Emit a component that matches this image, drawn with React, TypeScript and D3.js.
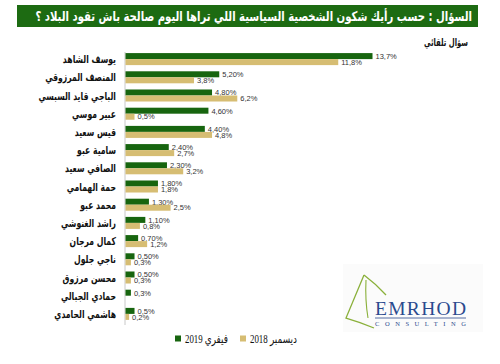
import { useEffect, useRef } from 'react';
import * as d3 from 'd3';

const names = [
  'يوسف الشاهد',
  'المنصف المرزوقي',
  'الباجي قايد السبسي',
  'عبير موسي',
  'قيس سعيد',
  'سامية عبو',
  'الصافي سعيد',
  'حمة الهمامي',
  'محمد عبو',
  'راشد الغنوشي',
  'كمال مرجان',
  'ناجي جلول',
  'محسن مرزوق',
  'حمادي الجبالي',
  'هاشمي الحامدي',
];

// فيفري 2019
const feb2019 = [13.7, 5.2, 4.8, 4.6, 4.4, 2.4, 2.3, 1.8, 1.3, 1.1, 0.7, 0.5, 0.5, 0.3, 0.5];
const feb2019Labels = ['13,7%', '5,20%', '4,80%', '4,60%', '4,40%', '2,40%', '2,30%', '1,80%', '1,30%', '1,10%', '0,70%', '0,50%', '0,50%', '0,3%', '0,5%'];

// ديسمبر 2018 (no bar for حمادي الجبالي)
const dec2018 = [11.8, 3.8, 6.2, 0.5, 4.8, 2.7, 3.2, 1.8, 2.5, 0.8, 1.2, 0.3, 0.3, null, 0.2];
const dec2018Labels = ['11,8%', '3,8%', '6,2%', '0,5%', '4,8%', '2,7%', '3,2%', '1,8%', '2,5%', '0,8%', '1,2%', '0,3%', '0,3%', '', '0,2%'];

const seriesKeys = ['feb', 'dec'];
const legendLabels = ['2019 فيفري', '2018 ديسمبر'];

const title = 'السؤال :  حسب رأيك شكون الشخصية  السياسية اللي تراها اليوم صالحة باش تقود البلاد ؟';
const subtitle = 'سؤال تلقائي';

const GREEN = '#17650f';
const GOLD = '#d6bd73';

// squeeze a text horizontally around its anchor x so it takes at most w pixels
const squeeze = (node, ax, w) => {
  const len = node.getComputedTextLength();
  const s = Math.min(1, w / len);
  d3.select(node).attr('transform', `translate(${ax},0) scale(${s},1) translate(${-ax},0)`);
};

const App = () => {
  const svgRef = useRef(null);

  useEffect(() => {
    const svg = d3.select(svgRef.current);
    svg.selectAll('*').remove();

    const x = d3.scaleLinear().domain([0, 13.7]).range([125, 372]);
    const y = d3.scaleBand().domain(names).range([50, 323]).paddingInner(0.34).paddingOuter(0.17);
    const sub = d3.scaleBand().domain(seriesKeys).range([0, y.bandwidth()]);
    const color = d3.scaleOrdinal().domain(seriesKeys).range([GREEN, GOLD]);

    // title banner
    svg.append('rect').attr('x', 17).attr('y', 5).attr('width', 461).attr('height', 22).attr('fill', '#1d6b12');
    const t = svg
      .append('text')
      .attr('x', 472)
      .attr('y', 21.5)
      .attr('direction', 'rtl')
      .attr('text-anchor', 'start')
      .attr('fill', '#fff')
      .attr('font-family', 'DejaVu Sans, sans-serif')
      .attr('font-weight', 'bold')
      .attr('font-size', 13.5)
      .text(title);
    squeeze(t.node(), 472, 437);

    const st = svg
      .append('text')
      .attr('x', 468)
      .attr('y', 46)
      .attr('direction', 'rtl')
      .attr('text-anchor', 'start')
      .attr('fill', '#111')
      .attr('font-family', 'DejaVu Sans, sans-serif')
      .attr('font-weight', 'bold')
      .attr('font-size', 10.5)
      .text(subtitle);
    squeeze(st.node(), 468, 44);

    // axis line
    svg.append('line').attr('x1', 125).attr('x2', 125).attr('y1', 52).attr('y2', 325).attr('stroke', '#c8c8c8');

    const rows = names.map((n, i) => ({
      name: n,
      values: [
        { key: 'feb', v: feb2019[i], label: feb2019Labels[i] },
        { key: 'dec', v: dec2018[i], label: dec2018Labels[i] },
      ],
    }));

    const g = svg
      .selectAll('g.row')
      .data(rows)
      .enter()
      .append('g')
      .attr('class', 'row')
      .attr('transform', (d) => `translate(0,${y(d.name)})`);

    g.append('text')
      .attr('x', 116)
      .attr('y', y.bandwidth() / 2 + 4)
      .attr('direction', 'rtl')
      .attr('text-anchor', 'start')
      .attr('fill', '#111')
      .attr('font-family', 'DejaVu Sans, sans-serif')
      .attr('font-weight', 'bold')
      .attr('font-size', 11)
      .text((d) => d.name)
      .each(function () {
        const len = this.getComputedTextLength();
        d3.select(this).attr('transform', `translate(116,0) scale(${Math.min(1, 0.7)},1) translate(-116,0)`);
        return len;
      });

    const bars = g
      .selectAll('g.bar')
      .data((d) => d.values.filter((v) => v.v != null))
      .enter()
      .append('g')
      .attr('class', 'bar');

    bars
      .append('rect')
      .attr('x', x(0) + 0.5)
      .attr('y', (d) => sub(d.key))
      .attr('width', (d) => x(d.v) - x(0))
      .attr('height', sub.bandwidth())
      .attr('fill', (d) => color(d.key));

    bars
      .append('text')
      .attr('x', (d) => x(d.v) + 3.5)
      .attr('y', (d) => sub(d.key) + sub.bandwidth() / 2 + 2.8)
      .attr('fill', '#333')
      .attr('font-family', 'Liberation Sans, Arial, sans-serif')
      .attr('font-size', 7.5)
      .text((d) => d.label);

    // legend
    const legendX = [175, 240];
    const legendW = [43, 47];
    const lg = svg
      .selectAll('g.legend')
      .data(seriesKeys)
      .enter()
      .append('g')
      .attr('class', 'legend')
      .attr('transform', (d, i) => `translate(${legendX[i]},339)`);
    lg.append('rect').attr('x', 0).attr('y', -3.5).attr('width', 6).attr('height', 6).attr('fill', (d) => color(d));
    lg.append('text')
      .attr('x', 10)
      .attr('y', 4)
      .attr('font-family', 'Liberation Serif, DejaVu Sans, serif')
      .attr('font-size', 12)
      .attr('fill', '#111')
      .text((d, i) => legendLabels[i])
      .each(function (d, i) {
        squeeze(this, 10, legendW[i]);
      });

    // logo
    const logo = svg.append('g');
    logo.append('rect').attr('x', 343).attr('y', 264).attr('width', 140).attr('height', 68).attr('fill', '#fbfbfb');
    const leaf = '#8ab03a';
    logo.append('path').attr('d', 'M364,275 L346,318 Q360,322 374,328').attr('fill', 'none').attr('stroke', leaf).attr('stroke-width', 1.3);
    logo.append('path').attr('d', 'M364,275 Q376,284 386,295').attr('fill', 'none').attr('stroke', leaf).attr('stroke-width', 1.3);
    logo.append('path').attr('d', 'M366,280 Q365,300 368,318').attr('fill', 'none').attr('stroke', leaf).attr('stroke-width', 1.1);
    logo
      .append('text')
      .attr('x', 375)
      .attr('y', 315)
      .attr('font-family', 'Liberation Serif, serif')
      .attr('font-size', 19.5)
      .attr('fill', '#2b4a8e')
      .attr('textLength', 91)
      .text('EMRHOD');
    logo.append('line').attr('x1', 375).attr('x2', 466).attr('y1', 318).attr('y2', 318).attr('stroke', '#2b4a8e').attr('stroke-width', 0.8);
    logo
      .append('text')
      .attr('x', 375)
      .attr('y', 325.5)
      .attr('font-family', 'Liberation Serif, serif')
      .attr('font-size', 6.5)
      .attr('fill', '#2b4a8e')
      .attr('textLength', 91)
      .text('CONSULTING');
  }, []);

  return <svg ref={svgRef} width="500" height="364" style={{ position: 'absolute', left: 0, top: 0, background: '#fff' }}></svg>;
};

export default App;
